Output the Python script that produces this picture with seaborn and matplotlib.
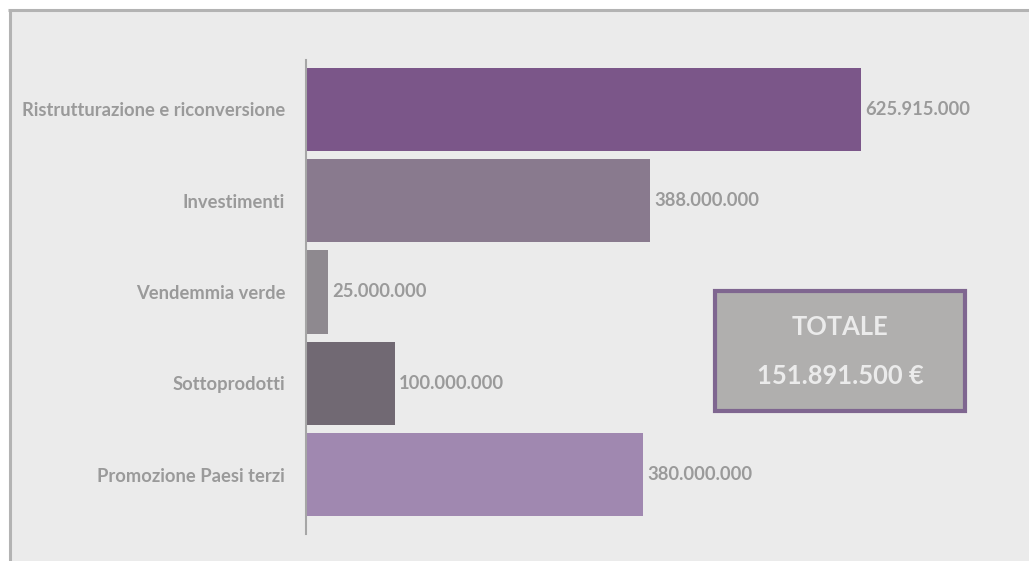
import matplotlib
matplotlib.use("Agg")
import matplotlib.pyplot as plt
from matplotlib import font_manager as fm
from matplotlib.patches import Rectangle
from matplotlib.lines import Line2D
import pandas as pd
import seaborn as sns

categories = [
    "Ristrutturazione e riconversione",
    "Investimenti",
    "Vendemmia verde",
    "Sottoprodotti",
    "Promozione Paesi terzi",
]
values = [625915000, 388000000, 25000000, 100000000, 380000000]
value_labels = ["625.915.000", "388.000.000", "25.000.000", "100.000.000", "380.000.000"]
bar_colors = ["#7b5689", "#897a8e", "#8e898f", "#716973", "#a088b0"]
total_title = "TOTALE"
total_value = "151.891.500 €"

sns.set_theme(style="white")
plt.rcParams["font.family"] = ["Lato", "DejaVu Sans"]

# Lato Bold file, looked up directly so the heavy cut is always used
bold_path = next((f.fname for f in fm.fontManager.ttflist
                  if f.fname.endswith("Lato-Bold.ttf")), None)


def bold(size):
    if bold_path:
        return fm.FontProperties(fname=bold_path, size=size)
    return fm.FontProperties(family="Lato", weight="bold", size=size)


W, H = 1029, 561
fig = plt.figure(figsize=(W / 100, H / 100), dpi=100)
fig.patch.set_facecolor("white")

# panel background with a grey top/left frame
fig.patches.append(Rectangle((9 / W, 0), 1 - 9 / W, 1 - 9 / H, transform=fig.transFigure,
                             facecolor="#ebebeb", edgecolor="none", zorder=-2))
fig.lines.append(Line2D([9.5 / W, 9.5 / W], [0, 1 - 9.5 / H], transform=fig.transFigure,
                        color="#b3b3b3", linewidth=2.2, solid_capstyle="butt", zorder=-1))
fig.lines.append(Line2D([8.4 / W, 1], [1 - 9.5 / H, 1 - 9.5 / H], transform=fig.transFigure,
                        color="#b3b3b3", linewidth=2.2, solid_capstyle="butt", zorder=-1))

# plot area: left edge at the value axis, spans the bar rows
ax_left, ax_right = 306, 1000
ax_top, ax_bottom = 60, 534
ax = fig.add_axes([ax_left / W, 1 - ax_bottom / H, (ax_right - ax_left) / W, (ax_bottom - ax_top) / H])
ax.set_facecolor("none")

df = pd.DataFrame({"categoria": categories, "valore": values})
sns.barplot(data=df, y="categoria", x="valore", hue="categoria", palette=bar_colors,
            legend=False, width=0.91, ax=ax, saturation=1, edgecolor="none")

px_per_unit = 555 / 625915000
ax.set_xlim(0, (ax_right - ax_left) / px_per_unit)
ax.set_ylim(4.65, -0.54)

for i, (v, lab) in enumerate(zip(values, value_labels)):
    ax.annotate(lab, xy=(v, i), xytext=(3, 0), textcoords="offset points",
                ha="left", va="center", fontproperties=bold(13.2), color="#9a9a9a")

ax.set_xlabel("")
ax.set_ylabel("")
ax.set_xticks([])
ax.tick_params(axis="y", length=0, pad=15, labelcolor="#9a9a9a")
for t in ax.get_yticklabels():
    t.set_fontproperties(bold(13.2))
for s in ["top", "right", "bottom"]:
    ax.spines[s].set_visible(False)
ax.spines["left"].set_color("#a6a6a6")
ax.spines["left"].set_linewidth(1.5)

# total box
bx0, bx1, by0, by1 = 715, 965, 291, 411
fig.patches.append(Rectangle((bx0 / W, 1 - by1 / H), (bx1 - bx0) / W, (by1 - by0) / H,
                             transform=fig.transFigure, facecolor="#b0afae",
                             edgecolor="#7f6690", linewidth=3, zorder=5))
cx = (bx0 + bx1) / 2 / W
fig.text(cx, 1 - 327 / H, total_title, ha="center", va="center",
         fontproperties=bold(18.4), color="#ebebeb", zorder=6)
fig.text(cx, 1 - 376 / H, total_value, ha="center", va="center",
         fontproperties=bold(18.4), color="#ebebeb", zorder=6)

fig.savefig("out.png", dpi=100, facecolor=fig.get_facecolor())
